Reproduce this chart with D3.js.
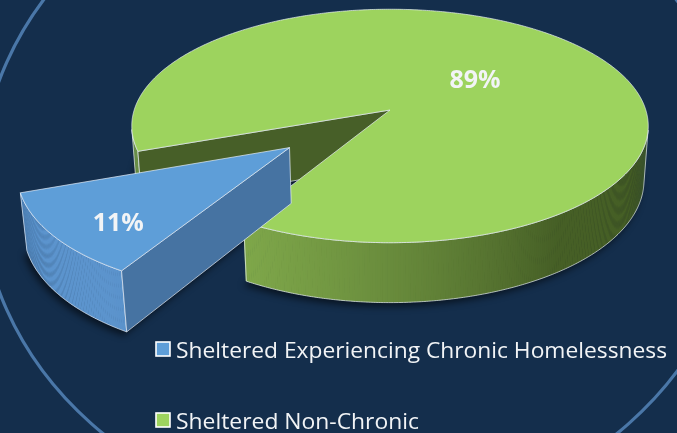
<!DOCTYPE html>
<html><head><meta charset="utf-8">
<script src="https://cdn.jsdelivr.net/npm/d3@7"></script>
<style>html,body{margin:0;padding:0;background:#142e4c;overflow:hidden}</style>
</head><body>
<svg id="chart" width="677" height="433"></svg>
<script>
// ---- data ----
const categories = ["Sheltered Experiencing Chronic Homelessness", "Sheltered Non-Chronic"];
const values = [11, 89];
const percentLabels = ["11%", "89%"];

// ---- style / layout ----
const W = 677, H = 433;
const style = {
  bg: "#142e4c", ring: "#4a77a8",
  top: ["#5e9ed8", "#9dd35e"],
  wallLight: ["#5c94cd", "#80a94b"],
  wallDark: ["#3d6591", "#465f26"],
  cut: ["#4673a2", "#475f28"],
  explode: [0.49, 0],
  labelR: [0.78, 0.45],
  labelShift: [-4, 0],
  edge: "rgba(235,242,250,0.75)"
};
const cam = {cx: 390, cy: 110, f: 1673, D: 6.54, alpha: 26.6 * Math.PI / 180};
const R = 1, depth = 0.24;
const ca = Math.cos(cam.alpha), sa = Math.sin(cam.alpha);
const camPos = [0, cam.D * sa, cam.D * ca];
function proj(x, y, z) {
  const Y = y * ca - z * sa, Zc = y * sa + z * ca, w = cam.D - Zc;
  return [cam.cx + cam.f * x / w, cam.cy - cam.f * Y / w];
}
const rad = d3.scaleLinear().domain([0, 1]).range([0, R]);

const svg = d3.select("#chart");
svg.append("rect").attr("width", W).attr("height", H).attr("fill", style.bg);
const defs = svg.append("defs");
defs.append("filter").attr("id", "blur").attr("x", "-20%").attr("y", "-20%").attr("width", "140%").attr("height", "140%")
  .append("feGaussianBlur").attr("stdDeviation", 3.5);

svg.append("ellipse").attr("cx", 360).attr("cy", 186).attr("rx", 380).attr("ry", 336)
  .attr("fill", "none").attr("stroke", style.ring).attr("stroke-width", 3.2);

const start = 120.3 * Math.PI / 180;
const pie = d3.pie().sort(null).startAngle(start).endAngle(start + 2 * Math.PI);
const arcs = pie(values);
const line = d3.line();
const step = Math.PI / 360;

const slices = arcs.map((a, i) => {
  const mid = (a.startAngle + a.endAngle) / 2;
  const e = rad(style.explode[i]);
  return {i, a0: a.startAngle, a1: a.endAngle, mid, ox: e * Math.cos(mid), oz: e * Math.sin(mid)};
});
function rimPts(s, y, a0, a1) {
  const pts = [];
  const n = Math.max(2, Math.ceil((a1 - a0) / step));
  for (let k = 0; k <= n; k++) {
    const p = a0 + (a1 - a0) * k / n;
    pts.push(proj(s.ox + R * Math.cos(p), y, s.oz + R * Math.sin(p)));
  }
  return pts;
}

// shadow
const shadowG = svg.append("g").attr("filter", "url(#blur)").attr("transform", "translate(-3,4)");
slices.forEach(s => {
  const c = proj(s.ox, -depth, s.oz);
  shadowG.append("path").attr("d", line([c, ...rimPts(s, -depth, s.a0, s.a1)]) + "Z")
    .attr("fill", "#000").attr("opacity", 0.55);
});

const order = slices.slice().sort((a, b) => a.oz - b.oz);
const g = svg.append("g");
order.forEach(s => {
  const i = s.i;
  // walls
  const runs = []; let cur = null;
  for (let p = s.a0; p < s.a1 - 1e-9; p += step) {
    const q = Math.min(p + step, s.a1), m = (p + q) / 2;
    const P = [s.ox + R * Math.cos(m), -depth / 2, s.oz + R * Math.sin(m)];
    const n = [Math.cos(m), 0, Math.sin(m)];
    const dot = (camPos[0] - P[0]) * n[0] + (camPos[1] - P[1]) * n[1] + (camPos[2] - P[2]) * n[2];
    if (dot > 0) {
      if (!cur) { cur = [p, q]; runs.push(cur); } else cur[1] = q;
      const b = 0.5 + 0.5 * Math.cos(m - 150 * Math.PI / 180);
      const t = Math.max(0, Math.min(1, (b - 0.45) / 0.5));
      const col = d3.interpolateRgb(style.wallDark[i], style.wallLight[i])(t);
      const pq = [
        proj(s.ox + R * Math.cos(p), 0, s.oz + R * Math.sin(p)),
        proj(s.ox + R * Math.cos(q + step * 0.3), 0, s.oz + R * Math.sin(q + step * 0.3)),
        proj(s.ox + R * Math.cos(q + step * 0.3), -depth, s.oz + R * Math.sin(q + step * 0.3)),
        proj(s.ox + R * Math.cos(p), -depth, s.oz + R * Math.sin(p))
      ];
      g.append("path").attr("d", line(pq) + "Z").attr("fill", col);
    } else cur = null;
  }
  runs.forEach(r => {
    const topA = rimPts(s, 0, r[0], r[1]);
    const botA = rimPts(s, -depth, r[0], r[1]).reverse();
    g.append("path").attr("d", line([...topA, ...botA]) + "Z")
      .attr("fill", "none").attr("stroke", style.edge).attr("stroke-width", 0.9);
  });
  // cut faces
  [[s.a0, [Math.sin(s.a0), 0, -Math.cos(s.a0)]], [s.a1, [-Math.sin(s.a1), 0, Math.cos(s.a1)]]].forEach(([ang, n]) => {
    const P = [s.ox, -depth / 2, s.oz];
    const dot = (camPos[0] - P[0]) * n[0] + (camPos[1] - P[1]) * n[1] + (camPos[2] - P[2]) * n[2];
    if (dot <= 0) return;
    const rx = s.ox + R * Math.cos(ang), rz = s.oz + R * Math.sin(ang);
    const pts = [proj(s.ox, 0, s.oz), proj(rx, 0, rz), proj(rx, -depth, rz), proj(s.ox, -depth, s.oz)];
    g.append("path").attr("d", line(pts) + "Z").attr("fill", style.cut[i])
      .attr("stroke", style.edge).attr("stroke-width", 0.9).attr("stroke-linejoin", "round");
  });
  // top
  const c = proj(s.ox, 0, s.oz);
  g.append("path").attr("d", line([c, ...rimPts(s, 0, s.a0, s.a1)]) + "Z")
    .attr("fill", style.top[i]).attr("stroke", style.edge).attr("stroke-width", 0.9).attr("stroke-linejoin", "round");
});

// labels
slices.forEach(s => {
  const lr = rad(style.labelR[s.i]);
  const la = s.mid + style.labelShift[s.i] * Math.PI / 180;
  const p = proj(s.ox + lr * Math.cos(la), 0, s.oz + lr * Math.sin(la));
  svg.append("text").attr("x", p[0]).attr("y", p[1]).attr("text-anchor", "middle")
    .attr("dominant-baseline", "central")
    .attr("font-family", "'Open Sans', sans-serif").attr("font-weight", 700).attr("font-size", 25)
    .attr("fill", "#f2f4f6").text(percentLabels[s.i]);
});

// legend
const legendY = [342, 413];
const legendW = [491, 243];
categories.forEach((cat, i) => {
  svg.append("rect").attr("x", 156).attr("y", legendY[i]).attr("width", 14).attr("height", 14)
    .attr("fill", style.top[i]).attr("stroke", "#ffffff").attr("stroke-width", 1.6);
  svg.append("text").attr("x", 176).attr("y", legendY[i] + 16.3)
    .attr("font-family", "'Open Sans', sans-serif").attr("font-size", 22)
    .attr("textLength", legendW[i]).attr("lengthAdjust", "spacingAndGlyphs")
    .attr("fill", "#f2f4f6").text(cat);
});
</script>
</body></html>
